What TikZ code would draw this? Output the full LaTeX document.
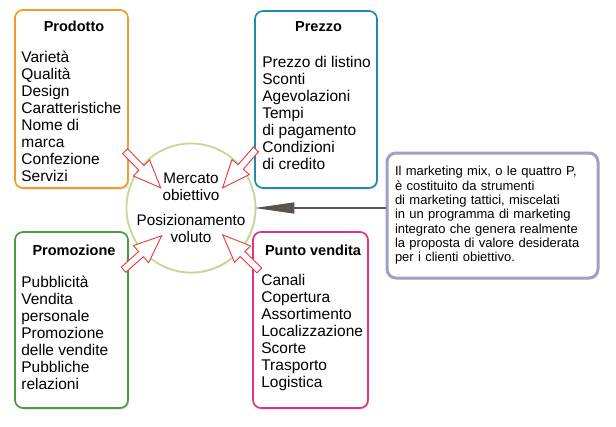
\documentclass[tikz,border=0pt]{standalone}
\usepackage{fontspec}
\setmainfont{Liberation Sans}
\usetikzlibrary{positioning,arrows.meta,shapes,shapes.arrows,shadows}
\definecolor{prodottocol}{HTML}{F39A2C}
\definecolor{prezzocol}{HTML}{1E8DAD}
\definecolor{promozionecol}{HTML}{4C9B3F}
\definecolor{puntocol}{HTML}{E2337F}
\definecolor{mercatocol}{HTML}{C2D894}
\definecolor{notacol}{HTML}{A0A0C4}
\definecolor{frecciacol}{HTML}{E8383A}
\definecolor{mixcol}{HTML}{5B5350}
\tikzset{
	box/.style={draw=#1, line width=1.7pt, rounded corners=8pt, fill=white, inner sep=0,
		drop shadow={shadow xshift=1.2pt, shadow yshift=-1.5pt, opacity=.25}},
	boxtitle/.style={font=\fontsize{14.5}{16}\selectfont\bfseries, inner sep=0, anchor=base},
	boxlist/.style={font=\fontsize{15.5}{17}\selectfont, align=left, inner sep=0, anchor=base west},
	freccia/.style={single arrow, draw=frecciacol, fill=white, line width=.9pt, inner sep=3pt,
		single arrow head extend=8pt, single arrow tip angle=45,
		minimum height=51pt, sloped, allow upside down},
	mixarrow/.style={draw=mixcol, line width=1.5pt, -{Triangle[length=40pt,width=11pt]}, shorten >=-2pt}
}
\begin{document}
\begin{tikzpicture}[x=1pt,y=-1pt]
		\useasboundingbox (0,0) rectangle (616,426);
		\node(prodotto)[box=prodottocol, minimum width=113pt, minimum height=178pt] at (71.5,99) {};
		\node(prezzo)[box=prezzocol, minimum width=122pt, minimum height=177pt] at (316,99.5) {};
		\node(promozione)[box=promozionecol, minimum width=113pt, minimum height=176pt] at (71.5,320) {};
		\node(punto)[box=puntocol, minimum width=115pt, minimum height=176pt] at (310.5,320) {};
		\node(mercato)[draw=mercatocol, line width=1.8pt, circle, fill=white, minimum size=121pt, inner sep=0,
			align=center, font=\fontsize{15.3}{16.5}\selectfont,
			drop shadow={shadow xshift=1pt, shadow yshift=-1.2pt, opacity=.15}] at (191,208)
			{Mercato\\obiettivo\\[9pt]Posizionamento\\voluto};
		\node(nota)[draw=notacol, line width=3pt, rounded corners=9pt, fill=white, minimum width=211pt,
			minimum height=125pt, text width=195pt, align=left, inner sep=0,
			font=\fontsize{13}{14.3}\selectfont,
			drop shadow={shadow xshift=1.2pt, shadow yshift=-1.5pt, opacity=.2}] at (492.5,215.5)
			{Il marketing mix, o le quattro P,\\è costituito da strumenti\\di marketing tattici, miscelati\\in un programma di marketing\\integrato che genera realmente\\la proposta di valore desiderata\\per i clienti obiettivo.};
		
		\node[boxtitle] at ([xshift=2.5pt, yshift=-22pt]prodotto.north) {Prodotto};
		\node[boxtitle] at ([xshift=2.5pt, yshift=-21pt]prezzo.north) {Prezzo};
		\node[boxtitle] at ([xshift=2.5pt, yshift=-24pt]promozione.north) {Promozione};
		\node[boxtitle] at ([xshift=2.5pt, yshift=-24pt]punto.north) {Punto vendita};
		
		\node[boxlist] at ([xshift=7pt, yshift=-172pt]prodotto.north west)
			{Varietà\\Qualità\\Design\\Caratteristiche\\Nome di\\marca\\Confezione\\Servizi};
		\node[boxlist] at ([xshift=8pt, yshift=-159pt]prezzo.north west)
			{Prezzo di listino\\Sconti\\Agevolazioni\\Tempi\\di pagamento\\Condizioni\\di credito};
		\node[boxlist] at ([xshift=7pt, yshift=-158pt]promozione.north west)
			{Pubblicità\\Vendita\\personale\\Promozione\\delle vendite\\Pubbliche\\relazioni};
		\node[boxlist] at ([xshift=9pt, yshift=-156pt]punto.north west)
			{Canali\\Copertura\\Assortimento\\Localizzazione\\Scorte\\Trasporto\\Logistica};
		
		\coordinate(prodottoA) at (122,148);
		\coordinate(prodottoB) at (158,185);
		\coordinate(prezzoA) at (258,147);
		\coordinate(prezzoB) at (226,184);
		\coordinate(promozioneA) at (121,272);
		\coordinate(promozioneB) at (158,239);
		\coordinate(puntoA) at (262,273);
		\coordinate(puntoB) at (226,238);
		
		\path (prodottoA) -- node[freccia]{} (prodottoB);
		\path (prezzoA) -- node[freccia]{} (prezzoB);
		\path (promozioneA) -- node[freccia]{} (promozioneB);
		\path (puntoA) -- node[freccia]{} (puntoB);
		\draw[mixarrow] (nota.west |- mercato.east) -- (mercato.east);
\end{tikzpicture}
\end{document}
